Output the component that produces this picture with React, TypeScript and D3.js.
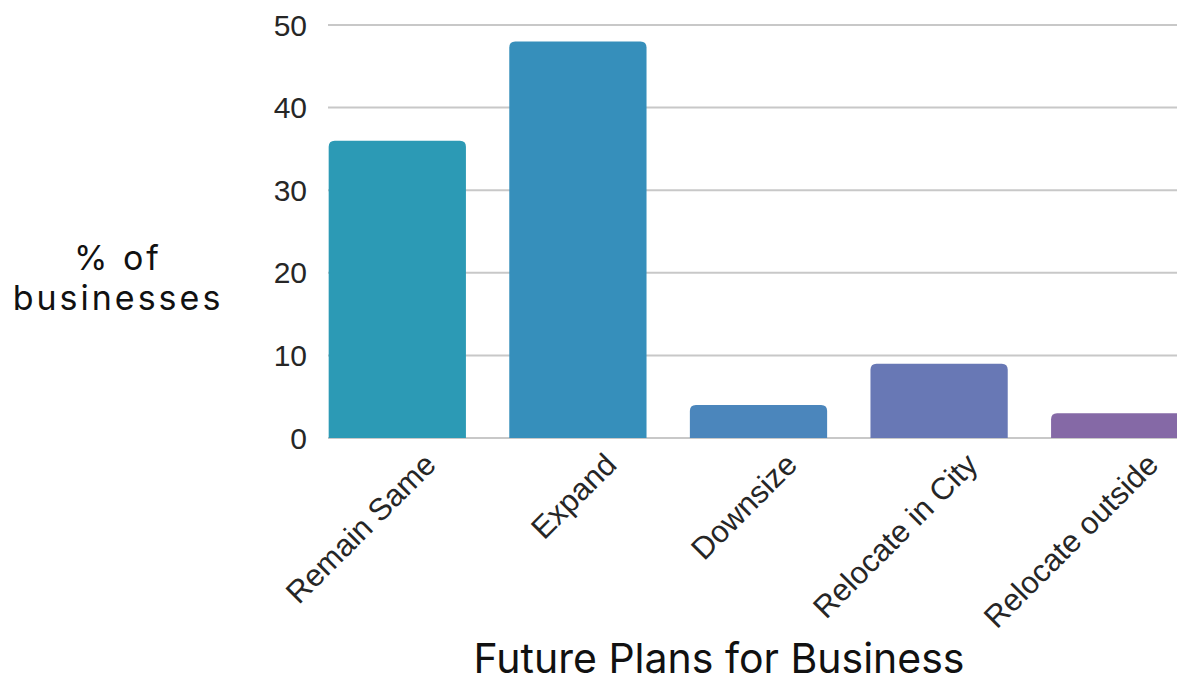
import React from "react";
import * as d3 from "d3";

const categories = ["Remain Same", "Expand", "Downsize", "Relocate in City", "Relocate outside"];
const values = [36, 48, 4, 9, 3];
const colors = ["#2c9ab5", "#368fbb", "#4b86bc", "#6878b5", "#8569a6"];
const yTicks = [0, 10, 20, 30, 40, 50];

const W = 1177;
const H = 679;

function topRounded(x: number, y: number, w: number, h: number, r: number) {
  const rr = Math.min(r, h, w / 2);
  return `M${x},${y + h}V${y + rr}Q${x},${y} ${x + rr},${y}H${x + w - rr}Q${x + w},${y} ${x + w},${y + rr}V${y + h}Z`;
}

export default function App() {
  const x = d3.scaleBand<string>().domain(categories).range([307, 1210]).paddingInner(0.24).paddingOuter(0.12);
  const y = d3.scaleLinear().domain([0, 50]).range([438, 25]);
  const gridX0 = 328;
  return (
    <svg width={W} height={H} style={{ position: "absolute", left: 0, top: 0, overflow: "hidden", background: "#fff" }}>
      {yTicks.map((t) => (
        <g key={t}>
          <line x1={gridX0} x2={W} y1={y(t)} y2={y(t)} stroke="#c8c8c8" strokeWidth={2} />
          <text x={307} y={y(t)} dy="0.35em" textAnchor="end" fontFamily="Liberation Sans, Arial, sans-serif" fontSize={30} fill="#262626">
            {t}
          </text>
        </g>
      ))}
      {categories.map((c, i) => {
        const bx = x(c)!;
        const bw = x.bandwidth();
        return (
          <path key={c} d={topRounded(bx, y(values[i]), bw, y(0) - y(values[i]), 6)} fill={colors[i]} />
        );
      })}
      {categories.map((c) => {
        const cx = x(c)! + x.bandwidth() / 2 + 24;
        const cy = 450;
        return (
          <text key={c} transform={`translate(${cx},${cy}) rotate(-45)`} textAnchor="end" dy="0.75em" fontFamily="Liberation Sans, Arial, sans-serif" fontSize={31} fill="#262626">
            {c}
          </text>
        );
      })}
      <text x={118} y={270} textAnchor="middle" fontFamily="Inter, sans-serif" fontSize={34} letterSpacing={3} fill="#111">% of</text>
      <text x={118} y={310} textAnchor="middle" fontFamily="Inter, sans-serif" fontSize={34} letterSpacing={3} fill="#111">businesses</text>
      <text x={719} y={673} textAnchor="middle" fontFamily="Inter, sans-serif" fontSize={41} fill="#111">Future Plans for Business</text>
    </svg>
  );
}
